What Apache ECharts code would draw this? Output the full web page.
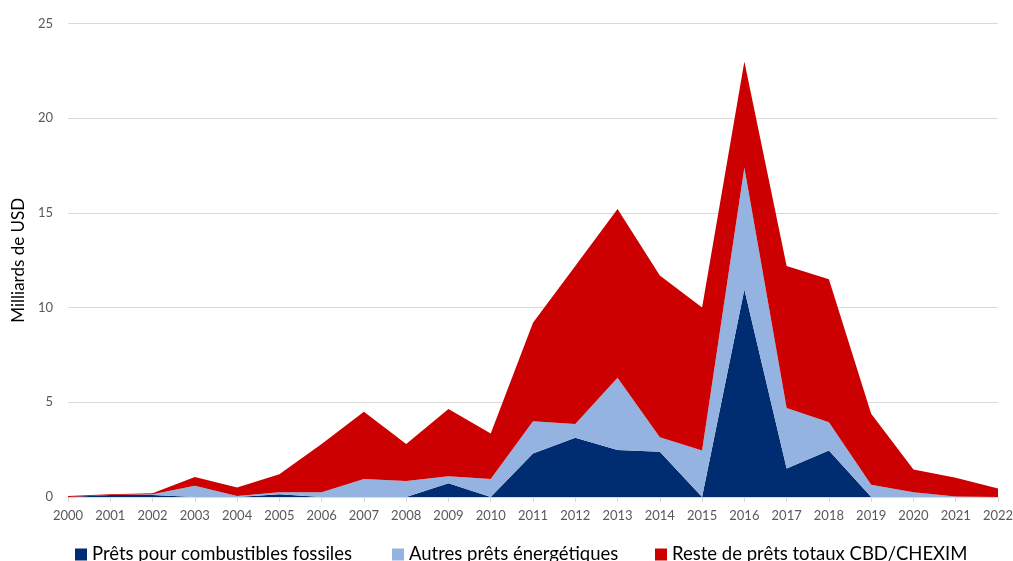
<!DOCTYPE html>
<html>
<head>
<meta charset="utf-8">
<script src="https://cdn.jsdelivr.net/npm/echarts@6/dist/echarts.min.js"></script>
<style>
  html, body { margin: 0; padding: 0; background: #ffffff; }
  #chart { width: 1013px; height: 561px; }
</style>
</head>
<body>
<div id="chart"></div>
<script>
// Years on the horizontal axis
const years = ['2000','2001','2002','2003','2004','2005','2006','2007','2008','2009','2010','2011',
               '2012','2013','2014','2015','2016','2017','2018','2019','2020','2021','2022'];

// Loans for fossil fuels (billions USD)
const fossilLoans = [0, 0.1, 0.1, 0, 0, 0.15, 0, 0, 0, 0.72, 0, 2.3,
                     3.13, 2.48, 2.39, 0, 10.95, 1.5, 2.45, 0, 0, 0, 0];

// Other energy loans (billions USD)
const otherEnergyLoans = [0, 0, 0.05, 0.6, 0.05, 0.1, 0.25, 0.95, 0.85, 0.38, 0.95, 1.7,
                          0.72, 3.82, 0.76, 2.45, 6.45, 3.2, 1.5, 0.65, 0.25, 0.02, 0];

// Remaining total CBD/CHEXIM loans (billions USD)
const remainingLoans = [0.05, 0.05, 0.05, 0.45, 0.45, 0.95, 2.55, 3.55, 1.95, 3.55, 2.4, 5.2,
                        8.35, 8.9, 8.55, 7.55, 5.6, 7.5, 7.55, 3.75, 1.2, 1.0, 0.45];

const seriesNames = ['Prêts pour combustibles fossiles', 'Autres prêts énergétiques', 'Reste de prêts totaux CBD/CHEXIM'];
const seriesColors = ['#002D72', '#95B3E0', '#CC0000'];
const yTicks = { min: 0, max: 25, interval: 5 };

const FONT = 'Lato, "Open Sans", sans-serif';

const chart = echarts.init(document.getElementById('chart'), null, { renderer: 'canvas' });

function areaSeries(name, data, color) {
  return {
    name: name,
    type: 'line',
    stack: 'total',
    data: data,
    symbol: 'none',
    lineStyle: { width: 0 },
    areaStyle: { color: color, opacity: 1 },
    itemStyle: { color: color },
    emphasis: { disabled: true },
    animation: false
  };
}

const legendLefts = [70, 387, 650];

chart.setOption({
  backgroundColor: '#ffffff',
  animation: false,
  grid: { left: 68, right: 15, top: 23.5, bottom: 64, containLabel: false, outerBoundsMode: 'none' },
  legend: seriesNames.map((n, i) => ({
    data: [n],
    left: legendLefts[i],
    top: 540,
    icon: 'rect',
    itemWidth: 12,
    itemHeight: 12,
    itemGap: 5,
    textStyle: { fontFamily: FONT, fontSize: 18.5, color: '#000000' },
    selectedMode: false
  })),
  xAxis: {
    type: 'category',
    data: years,
    boundaryGap: false,
    axisLine: { show: true, lineStyle: { color: '#d9d9d9', width: 1 } },
    axisTick: { show: true, alignWithLabel: true, length: 5, lineStyle: { color: '#d9d9d9' } },
    axisLabel: { fontFamily: FONT, fontSize: 13, color: '#595959', margin: 12, interval: 0 },
    splitLine: { show: false }
  },
  yAxis: {
    type: 'value',
    min: yTicks.min,
    max: yTicks.max,
    interval: yTicks.interval,
    name: 'Milliards de USD',
    nameLocation: 'middle',
    nameGap: 38,
    nameRotate: 90,
    nameTextStyle: { fontFamily: FONT, fontSize: 17, color: '#000000' },
    axisLine: { show: false },
    axisTick: { show: false },
    axisLabel: { fontFamily: FONT, fontSize: 13, color: '#595959', margin: 15 },
    splitLine: { show: true, lineStyle: { color: '#d9d9d9', width: 1 } }
  },
  series: [
    areaSeries(seriesNames[0], fossilLoans, seriesColors[0]),
    areaSeries(seriesNames[1], otherEnergyLoans, seriesColors[1]),
    areaSeries(seriesNames[2], remainingLoans, seriesColors[2])
  ]
});
</script>
</body>
</html>
